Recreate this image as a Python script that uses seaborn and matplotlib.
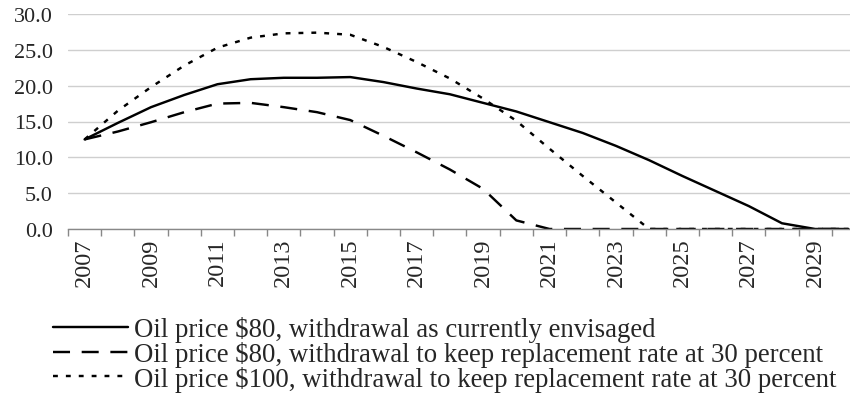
import matplotlib
matplotlib.use("Agg")
import matplotlib.pyplot as plt
import seaborn as sns
import pandas as pd
import numpy as np

years = list(range(2007, 2031))
s80_current = [12.5, 14.8, 17.0, 18.7, 20.2, 20.9, 21.1, 21.1, 21.2, 20.5, 19.6, 18.8,
               17.6, 16.4, 14.9, 13.4, 11.6, 9.6, 7.4, 5.3, 3.2, 0.8, 0.0, 0.0]
s80_30pct = [12.5, 13.6, 14.9, 16.3, 17.5, 17.6, 17.0, 16.3, 15.2, 13.0, 10.7, 8.3,
             5.6, 1.2, 0.0, 0.0, 0.0, 0.0, 0.0, 0.0, 0.0, 0.0, 0.0, 0.0]
s100_30pct = [12.5, 16.5, 19.8, 22.8, 25.3, 26.7, 27.3, 27.4, 27.1, 25.4, 23.3, 21.0,
              18.2, 15.1, 11.2, 7.4, 3.7, 0.0, 0.0, 0.0, 0.0, 0.0, 0.0, 0.0]
labels = ["Oil price $80, withdrawal as currently envisaged",
          "Oil price $80, withdrawal to keep replacement rate at 30 percent",
          "Oil price $100, withdrawal to keep replacement rate at 30 percent"]
yticks = [0, 5, 10, 15, 20, 25, 30]

sns.set_theme(style="white")
plt.rcParams['font.family'] = ['Liberation Serif', 'DejaVu Serif']

W, H = 850, 402
fig = plt.figure(figsize=(W / 100, H / 100), dpi=100)
ax = fig.add_axes([68 / W, 1 - 230 / H, (865 - 68) / W, (230 - 15) / H])

idx = np.arange(len(years))
series = [s80_current, s80_30pct, s100_30pct]
styles = ['-', (0, (7.0, 4.8)), (0, (2.0, 3.3))]
lines = []
for vals, ls, lab in zip(series, styles, labels):
    df = pd.DataFrame({"x": idx, "y": vals})
    sns.lineplot(data=df, x="x", y="y", ax=ax, color="black", linewidth=1.75,
                 label=lab, legend=False)
    ln = ax.get_lines()[-1]
    ln.set_linestyle(ls)
    lines.append(ln)

ax.set_xlim(-0.5, len(years) - 0.5)
ax.set_ylim(0, 30)
ax.set_yticks(yticks)
ax.set_yticklabels([f"{v:.1f}" for v in yticks], fontsize=16)
ax.yaxis.grid(True, color="#cfcfcf", linewidth=1)
ax.set_axisbelow(True)

ax.set_xticks(idx[::2])
ax.set_xticklabels([str(y) for y in years[::2]], rotation=90, fontsize=17.5)
ax.set_xticks(np.arange(-0.5, len(years), 1), minor=True)
ax.tick_params(axis='x', which='major', length=0, pad=6)
ax.tick_params(axis='x', which='minor', length=5, width=1, color="#888888", direction='out', bottom=True)
ax.tick_params(axis='y', length=0, pad=11)

for s in ['top', 'right', 'left']:
    ax.spines[s].set_visible(False)
ax.spines['bottom'].set_color("#888888")
ax.spines['bottom'].set_linewidth(1)
ax.set_xlabel("")
ax.set_ylabel("")

fig.legend(handles=lines, labels=labels, loc='upper left',
           bbox_to_anchor=(53 / W, 1 - 317 / H), frameon=False, fontsize=19.3,
           handlelength=2.8, handletextpad=0.23, labelspacing=-0.04, borderpad=0,
           borderaxespad=0)

fig.savefig("out.png", dpi=100)
